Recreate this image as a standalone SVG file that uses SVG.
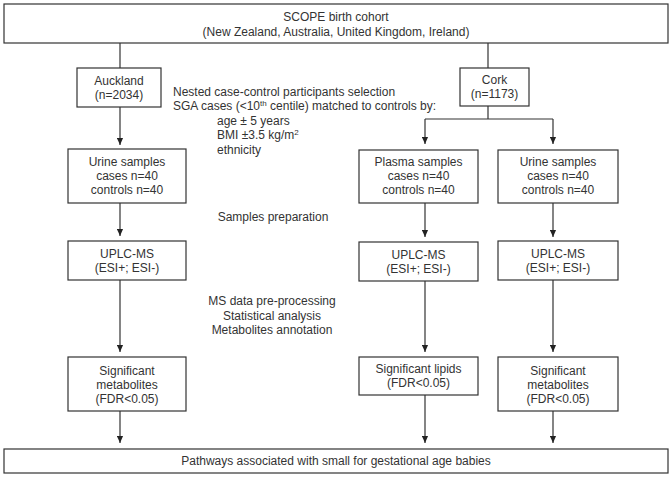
<svg xmlns="http://www.w3.org/2000/svg" width="672" height="477" viewBox="0 0 672 477">
<defs>
<marker id="ah" viewBox="0 0 8 8" refX="8" refY="4" markerUnits="userSpaceOnUse" markerWidth="7" markerHeight="7" orient="auto">
<path d="M0,0.5 L8,4 L0,7.5 z" fill="#222"/>
</marker>
<style>
.box{fill:#fff;stroke:#333;stroke-width:1.2}
.t{font-family:"Liberation Sans",Arial,sans-serif;font-size:12px;fill:#333;text-anchor:middle}
.l{font-family:"Liberation Sans",Arial,sans-serif;font-size:12px;fill:#333}
.c{fill:none;stroke:#333;stroke-width:1.2}
.a{fill:none;stroke:#333;stroke-width:1.2;marker-end:url(#ah)}
</style>
</defs>
<rect width="672" height="477" fill="#fff"/>
<g id="connectors">
<path class="c" d="M120,43 V68"/>
<path class="c" d="M488,43 V68"/>
<path class="a" d="M120,107 V145"/>
<path class="c" d="M488,106 V119 M425,119 H553"/>
<path class="a" d="M425,119 V144"/>
<path class="a" d="M553,119 V144"/>
<path class="a" d="M120,203 V236"/>
<path class="a" d="M425,203 V237"/>
<path class="a" d="M553,203 V237"/>
<path class="a" d="M120,280 V352"/>
<path class="a" d="M425,281 V352"/>
<path class="a" d="M553,280 V352"/>
<path class="a" d="M120,411 V443"/>
<path class="a" d="M425,395 V443"/>
<path class="a" d="M553,411 V443"/>
</g>
<g id="scope">
<rect class="box" x="4" y="4" width="664" height="39"/>
<text class="t" x="336" y="21">SCOPE birth cohort</text>
<text class="t" x="336" y="36">(New Zealand, Australia, United Kingdom, Ireland)</text>
</g>
<g id="auckland">
<rect class="box" x="77" y="68" width="84" height="39"/>
<text class="t" x="119" y="85">Auckland</text>
<text class="t" x="119" y="99">(n=2034)</text>
</g>
<g id="cork">
<rect class="box" x="460" y="68" width="69" height="38"/>
<text class="t" x="494.5" y="84">Cork</text>
<text class="t" x="494.5" y="98">(n=1173)</text>
</g>
<g id="selection-note">
<text class="l" x="173" y="96">Nested case-control participants selection</text>
<text class="l" x="173" y="110">SGA cases (&lt;10<tspan font-size="8" dy="-4">th</tspan><tspan dy="4"> centile) matched to controls by:</tspan></text>
<text class="l" x="217" y="125">age ± 5 years</text>
<text class="l" x="217" y="139">BMI ±3.5 kg/m<tspan font-size="8" dy="-4">2</tspan></text>
<text class="l" x="217" y="154">ethnicity</text>
</g>
<g id="urine-auckland">
<rect class="box" x="68" y="149" width="118" height="54"/>
<text class="t" x="127" y="166">Urine samples</text>
<text class="t" x="127" y="180">cases n=40</text>
<text class="t" x="127" y="194">controls n=40</text>
</g>
<g id="plasma-cork">
<rect class="box" x="359" y="150" width="119" height="53"/>
<text class="t" x="418.5" y="166">Plasma samples</text>
<text class="t" x="418.5" y="180">cases n=40</text>
<text class="t" x="418.5" y="194">controls n=40</text>
</g>
<g id="urine-cork">
<rect class="box" x="498" y="150" width="120" height="53"/>
<text class="t" x="558" y="166">Urine samples</text>
<text class="t" x="558" y="180">cases n=40</text>
<text class="t" x="558" y="194">controls n=40</text>
</g>
<g id="prep-note">
<text class="t" x="273" y="221">Samples preparation</text>
</g>
<g id="uplc-1">
<rect class="box" x="68" y="241" width="118" height="39"/>
<text class="t" x="127" y="258">UPLC-MS</text>
<text class="t" x="127" y="272">(ESI+; ESI-)</text>
</g>
<g id="uplc-2">
<rect class="box" x="359" y="242" width="119" height="39"/>
<text class="t" x="418.5" y="259">UPLC-MS</text>
<text class="t" x="418.5" y="273">(ESI+; ESI-)</text>
</g>
<g id="uplc-3">
<rect class="box" x="498" y="241" width="120" height="39"/>
<text class="t" x="558" y="258">UPLC-MS</text>
<text class="t" x="558" y="272">(ESI+; ESI-)</text>
</g>
<g id="analysis-note">
<text class="t" x="272" y="305">MS data pre-processing</text>
<text class="t" x="272" y="320">Statistical analysis</text>
<text class="t" x="272" y="334">Metabolites annotation</text>
</g>
<g id="sig-1">
<rect class="box" x="68" y="357" width="118" height="54"/>
<text class="t" x="127" y="375">Significant</text>
<text class="t" x="127" y="389">metabolites</text>
<text class="t" x="127" y="403">(FDR&lt;0.05)</text>
</g>
<g id="sig-2">
<rect class="box" x="359" y="357" width="119" height="38"/>
<text class="t" x="418.5" y="373">Significant lipids</text>
<text class="t" x="418.5" y="387">(FDR&lt;0.05)</text>
</g>
<g id="sig-3">
<rect class="box" x="498" y="357" width="120" height="54"/>
<text class="t" x="558" y="375">Significant</text>
<text class="t" x="558" y="389">metabolites</text>
<text class="t" x="558" y="403">(FDR&lt;0.05)</text>
</g>
<g id="pathways">
<rect class="box" x="4" y="449" width="664" height="24"/>
<text class="t" x="336" y="465">Pathways associated with small for gestational age babies</text>
</g>
</svg>
